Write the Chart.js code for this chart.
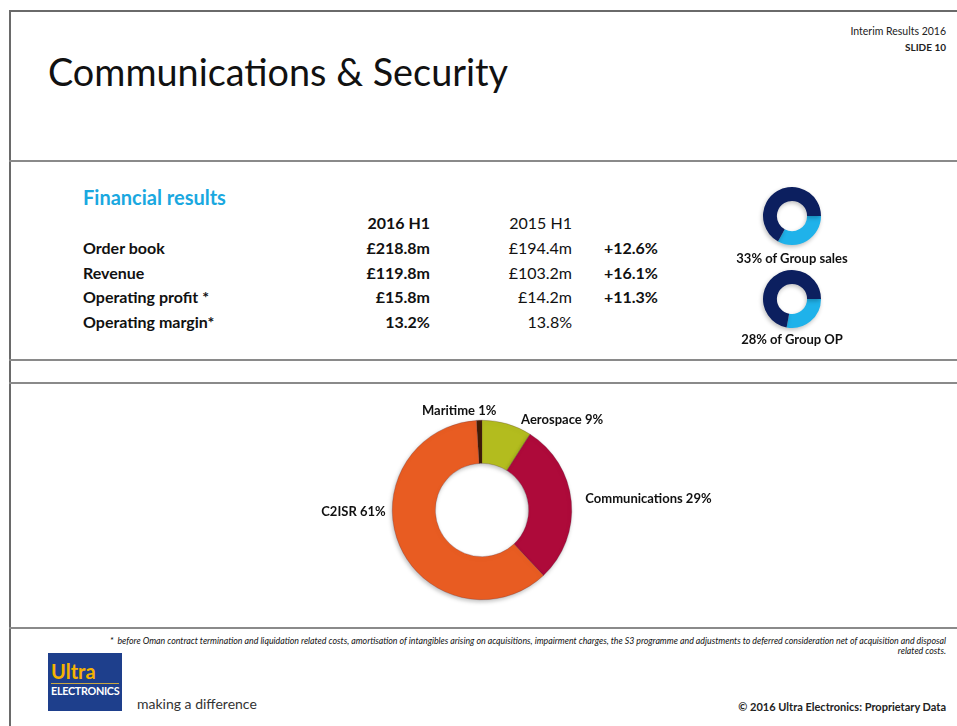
<!DOCTYPE html>
<html>
<head>
<meta charset="utf-8">
<script src="https://cdn.jsdelivr.net/npm/chart.js@4.4.0/dist/chart.umd.min.js"></script>
<style>
    html, body { margin: 0; padding: 0; background: #fff; }
    body { width: 957px; height: 726px; position: relative; overflow: hidden; font-family: Lato, "Noto Sans", sans-serif; color: #111; }
    .hline { position: absolute; left: 9px; right: 0; height: 2px; background: #8a8a8a; }
    .vline { position: absolute; left: 9px; top: 10px; bottom: 0; width: 2px; background: #6a6a6a; }
    .t { position: absolute; white-space: nowrap; line-height: 1; }
    .b { font-weight: bold; }
    .r { text-align: right; }
    canvas { position: absolute; }
</style>
</head>
<body>
<div class="hline" style="top:10px;background:#6a6a6a"></div>
<div class="vline"></div>
<div class="hline" style="top:160px"></div>
<div class="hline" style="top:359px"></div>
<div class="hline" style="top:382px"></div>
<div class="hline" style="top:627px"></div>

<div class="t r" style="right:11px;top:26px;font-size:10.5px;color:#222">Interim Results 2016</div>
<div class="t r b" style="right:11px;top:42px;font-size:10px;color:#222">SLIDE 10</div>
<div class="t" id="title" style="left:48px;top:53px;font-size:37.8px;color:#111">Communications &amp; Security</div>

<div class="t b" style="left:83px;top:187px;font-size:20px;color:#1aa8e0">Financial results</div>
<div id="table"></div>

<canvas id="salesChart"></canvas>
<canvas id="opChart"></canvas>
<div class="t b" id="salesLabel" style="left:722px;top:252px;font-size:13px;width:140px;text-align:center"></div>
<div class="t b" id="opLabel" style="left:722px;top:333px;font-size:13px;width:140px;text-align:center"></div>

<canvas id="segmentChart"></canvas>

<div class="t r" style="right:11px;top:636px;font-size:8.8px;font-style:italic;line-height:9.5px;text-align:right">* &nbsp;before Oman contract termination and liquidation related costs, amortisation of intangibles arising on acquisitions, impairment charges, the S3 programme and adjustments to deferred consideration net of acquisition and disposal<br>related costs.</div>

<div style="position:absolute;left:48px;top:653px;width:74px;height:58px;background:#1e3f8c">
    <div class="t b" style="left:3px;top:8px;font-size:20px;color:#f5b300">Ultra</div>
    <div style="position:absolute;left:3px;right:3px;top:30px;height:1px;background:#c9a640"></div>
    <div class="t b" style="left:3px;top:33px;font-size:10.8px;color:#fff;letter-spacing:-0.3px">ELECTRONICS</div>
</div>
<div class="t" style="left:137px;top:697px;font-size:14px;color:#333">making a difference</div>
<div class="t r b" style="right:11px;top:701px;font-size:11px;color:#222">© 2016 Ultra Electronics: Proprietary Data</div>

<script>
// 表格数据
const metrics = ['Order book', 'Revenue', 'Operating profit *', 'Operating margin*'];
const h1_2016 = ['£218.8m', '£119.8m', '£15.8m', '13.2%'];
const h1_2015 = ['£194.4m', '£103.2m', '£14.2m', '13.8%'];
const changes = ['+12.6%', '+16.1%', '+11.3%', ''];
const periodLabels = ['2016 H1', '2015 H1'];

// 集团占比
const groupSalesShare = 33;
const groupOpShare = 28;

// 业务板块
const segments = ['Maritime', 'Aerospace', 'Communications', 'C2ISR'];
const segmentShares = [1, 9, 29, 61];

const segmentColors = ['#4a2208', '#b3bc1e', '#ae0a3a', '#e85c22'];
const labelOffsets = [[-20, -9], [14, -4], [14, -3], [-14, -34]];

const buildTable = () => {
    const table = document.getElementById('table');
    let html = '';
    html += `<div class="t r b" style="left:330px;width:100px;top:215px;font-size:16px">${periodLabels[0]}</div>`;
    html += `<div class="t r" style="left:472px;width:100px;top:215px;font-size:16px">${periodLabels[1]}</div>`;
    metrics.forEach((m, i) => {
        const top = 240 + i * 24.5;
        html += `<div class="t b" style="left:83px;top:${top}px;font-size:16px">${m}</div>`;
        html += `<div class="t r b" style="left:330px;width:100px;top:${top}px;font-size:16px">${h1_2016[i]}</div>`;
        html += `<div class="t r" style="left:472px;width:100px;top:${top}px;font-size:16px">${h1_2015[i]}</div>`;
        html += `<div class="t r b" style="left:558px;width:100px;top:${top}px;font-size:16px">${changes[i]}</div>`;
    });
    table.innerHTML = html;
};

const placeCanvas = (id, left, top, w, h) => {
    const c = document.getElementById(id);
    c.style.left = left + 'px';
    c.style.top = top + 'px';
    c.style.width = w + 'px';
    c.style.height = h + 'px';
    c.width = w;
    c.height = h;
    return c;
};

// 简单阴影
const shadowPlugin = {
    id: 'shadow',
    beforeDatasetsDraw(chart) {
        const ctx = chart.ctx;
        ctx.save();
        ctx.shadowColor = 'rgba(0,0,0,0.25)';
        ctx.shadowBlur = 4;
        ctx.shadowOffsetX = -1;
        ctx.shadowOffsetY = 2;
    },
    afterDatasetsDraw(chart) {
        chart.ctx.restore();
    }
};

const segmentLabelPlugin = {
    id: 'segmentLabels',
    afterDatasetsDraw(chart) {
        const ctx = chart.ctx;
        const meta = chart.getDatasetMeta(0);
        ctx.save();
        ctx.font = 'bold 13px Lato, "Noto Sans", sans-serif';
        ctx.fillStyle = '#111';
        ctx.textBaseline = 'middle';
        meta.data.forEach((arc, i) => {
            const p = arc.getProps(['x', 'y', 'startAngle', 'endAngle', 'outerRadius']);
            const mid = (p.startAngle + p.endAngle) / 2;
            const ax = p.x + Math.cos(mid) * p.outerRadius;
            const ay = p.y + Math.sin(mid) * p.outerRadius;
            const text = `${segments[i]} ${segmentShares[i]}%`;
            const left = Math.cos(mid) < -0.05;
            const top = i === 0;
            ctx.textAlign = top ? 'center' : (left ? 'right' : 'left');
            ctx.fillText(text, ax + labelOffsets[i][0], ay + labelOffsets[i][1]);
        });
        ctx.restore();
    }
};

const makeGroupDonut = (id, top, share) => {
    const c = placeCanvas(id, 757, top, 70, 70);
    return new Chart(c.getContext('2d'), {
        type: 'doughnut',
        data: {
            labels: ['Communications & Security', 'Rest of Group'],
            datasets: [{
                data: [share, 100 - share],
                backgroundColor: ['#1fb2ea', '#0c1f5f'],
                borderWidth: 0
            }]
        },
        options: {
            responsive: false,
            animation: false,
            rotation: 90,
            cutout: '52%',
            layout: { padding: 6 },
            plugins: { legend: { display: false }, tooltip: { enabled: false } }
        },
        plugins: [shadowPlugin]
    });
};

document.addEventListener('DOMContentLoaded', () => {
    buildTable();
    document.getElementById('salesLabel').textContent = `${groupSalesShare}% of Group sales`;
    document.getElementById('opLabel').textContent = `${groupOpShare}% of Group OP`;

    makeGroupDonut('salesChart', 181, groupSalesShare);
    makeGroupDonut('opChart', 264, groupOpShare);

    const c = placeCanvas('segmentChart', 212, 400, 540, 220);
    new Chart(c.getContext('2d'), {
        type: 'doughnut',
        data: {
            labels: segments,
            datasets: [{
                data: segmentShares,
                backgroundColor: segmentColors,
                borderColor: 'rgba(80,40,60,0.5)',
                borderWidth: 0.5
            }]
        },
        options: {
            responsive: false,
            animation: false,
            rotation: -3.6,
            cutout: '52%',
            layout: { padding: { top: 20, bottom: 20, left: 180, right: 180 } },
            plugins: { legend: { display: false }, tooltip: { enabled: false } }
        },
        plugins: [shadowPlugin, segmentLabelPlugin]
    });
});
</script>
</body>
</html>
